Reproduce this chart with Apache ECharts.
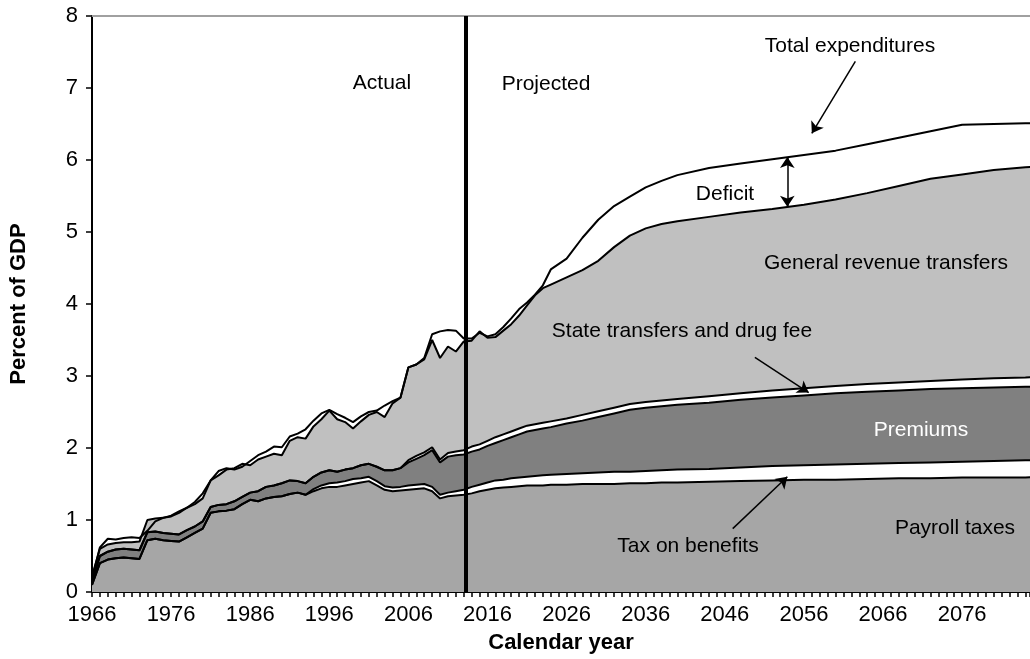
<!DOCTYPE html>
<html>
<head>
<meta charset="utf-8">
<script src="https://cdn.jsdelivr.net/npm/echarts@6/dist/echarts.min.js"></script>
<style>
html, body { margin: 0; padding: 0; background: #fff; }
#main { width: 1030px; height: 659px; }
</style>
</head>
<body>
<div id="main"></div>
<script>
// calendar years (annual history, sparser for the smooth projections)
var years = [
	1966,1967,1968,1969,1970,1971,1972,1973,1974,1975,
	1976,1977,1978,1979,1980,1981,1982,1983,1984,1985,
	1986,1987,1988,1989,1990,1991,1992,1993,1994,1995,
	1996,1997,1998,1999,2000,2001,2002,2003,2004,2005,
	2006,2007,2008,2009,2010,2011,2012,2013,
	2014,2015,2016,2017,2018,2019,2020,2021,2022,2023,2024,
	2026,2028,2030,2032,2034,2036,2038,2040,
	2044,2048,2052,2056,2060,2064,2068,2072,2076,2080,2084,2086
]

// income sources, percent of GDP (stacked bottom to top)
var payrollTaxes = [
	0.10,0.40,0.45,0.47,0.48,0.47,0.46,0.72,0.74,0.72,
	0.71,0.70,0.76,0.82,0.88,1.10,1.12,1.13,1.15,1.22,
	1.28,1.26,1.30,1.32,1.33,1.36,1.38,1.35,1.40,1.44,
	1.46,1.46,1.48,1.50,1.52,1.54,1.48,1.42,1.40,1.41,
	1.42,1.43,1.44,1.40,1.30,1.33,1.34,1.35,
	1.37,1.40,1.42,1.44,1.45,1.46,1.47,1.48,1.48,1.48,1.49,
	1.49,1.50,1.50,1.50,1.51,1.51,1.52,1.52,
	1.53,1.54,1.55,1.56,1.56,1.57,1.58,1.58,1.59,1.59,1.59,1.60
]
var taxOnBenefits = [
	0,0,0,0,0,0,0,0,0,0,
	0,0,0,0,0,0,0,0,0,0,
	0,0,0,0,0,0,0,0,0.03,0.04,
	0.05,0.06,0.06,0.07,0.06,0.06,0.06,0.05,0.05,0.05,
	0.06,0.06,0.06,0.06,0.05,0.05,0.06,0.07,
	0.09,0.09,0.10,0.11,0.11,0.12,0.12,0.12,0.13,0.14,0.14,
	0.15,0.15,0.16,0.17,0.16,0.17,0.17,0.18,
	0.18,0.19,0.20,0.20,0.21,0.21,0.21,0.22,0.22,0.23,0.24,0.23
]
var premiums = [
	0.05,0.10,0.11,0.12,0.12,0.12,0.12,0.11,0.10,0.10,
	0.10,0.10,0.10,0.09,0.10,0.08,0.09,0.09,0.11,0.10,
	0.10,0.14,0.16,0.16,0.18,0.19,0.16,0.16,0.17,0.18,
	0.18,0.15,0.16,0.15,0.18,0.18,0.20,0.22,0.24,0.26,
	0.32,0.36,0.40,0.51,0.45,0.50,0.50,0.49,
	0.49,0.49,0.51,0.52,0.55,0.57,0.60,0.63,0.64,0.65,0.66,
	0.70,0.73,0.77,0.81,0.86,0.88,0.89,0.90,
	0.92,0.94,0.95,0.97,0.99,1.00,1.01,1.02,1.02,1.02,1.02,1.02
]
var stateTransfers = [
	0,0,0,0,0,0,0,0,0,0,
	0,0,0,0,0,0,0,0,0,0,
	0,0,0,0,0,0,0,0,0,0,
	0,0,0,0,0,0,0,0,0,0,
	0.03,0.04,0.04,0.04,0.04,0.05,0.05,0.06,
	0.07,0.07,0.07,0.08,0.08,0.08,0.08,0.08,0.08,0.08,0.08,
	0.07,0.08,0.08,0.08,0.08,0.08,0.08,0.08,
	0.09,0.09,0.10,0.10,0.10,0.11,0.11,0.11,0.12,0.13,0.13,0.14
]
var generalRevenue = [
	0.07,0.10,0.10,0.09,0.09,0.10,0.12,0.17,0.18,0.21,
	0.25,0.32,0.31,0.31,0.32,0.37,0.41,0.48,0.46,0.46,
	0.38,0.44,0.42,0.44,0.39,0.55,0.61,0.62,0.70,0.74,
	0.83,0.73,0.66,0.55,0.61,0.68,0.76,0.74,0.93,0.98,
	1.29,1.27,1.29,1.49,1.41,1.48,1.39,1.51,
	1.47,1.57,1.43,1.39,1.44,1.49,1.57,1.67,1.79,1.87,1.90,
	1.96,2.01,2.09,2.23,2.34,2.41,2.45,2.47,
	2.49,2.51,2.52,2.55,2.59,2.65,2.73,2.81,2.85,2.89,2.92,2.92
]
// total expenditures, percent of GDP
var totalExpenditures = [
	0.18,0.62,0.74,0.73,0.75,0.76,0.75,0.85,0.98,1.03,
	1.05,1.10,1.17,1.25,1.37,1.55,1.68,1.72,1.70,1.74,
	1.82,1.90,1.95,2.02,2.01,2.16,2.20,2.26,2.38,2.48,
	2.53,2.47,2.42,2.36,2.44,2.50,2.52,2.59,2.65,2.70,
	3.12,3.16,3.25,3.58,3.62,3.64,3.63,3.52,
	3.52,3.60,3.55,3.58,3.68,3.80,3.93,4.02,4.13,4.26,4.48,
	4.63,4.92,5.17,5.36,5.49,5.62,5.71,5.79,
	5.89,5.95,6.01,6.07,6.13,6.22,6.31,6.40,6.49,6.50,6.51,6.51
]

var projectionStart = 2013.3
var yTicks = [0, 1, 2, 3, 4, 5, 6, 7, 8]

var font = '"Liberation Sans", Arial, sans-serif'

var bands = [
	{ name: 'Payroll taxes', values: payrollTaxes, color: '#a6a6a6' },
	{ name: 'Tax on benefits', values: taxOnBenefits, color: '#ffffff' },
	{ name: 'Premiums', values: premiums, color: '#808080' },
	{ name: 'State transfers and drug fee', values: stateTransfers, color: '#ffffff' },
	{ name: 'General revenue transfers', values: generalRevenue, color: '#c0c0c0' }
]

// running totals: the top edge of each band
var running = years.map(function () { return 0 })
bands.forEach(function (b) {
	running = running.map(function (s, i) { return Math.round((s + b.values[i]) * 100) / 100 })
	b.top = years.map(function (y, i) { return [y, running[i]] })
})

var series = []
// filled bands, widest first so the lower ones paint over them
bands.slice().reverse().forEach(function (b) {
	series.push({
		name: b.name,
		type: 'line',
		data: b.top,
		showSymbol: false,
		symbol: 'none',
		lineStyle: { width: 0 },
		areaStyle: { color: b.color, opacity: 1 },
		z: 2
	})
})
// black outline along the top of each band
bands.forEach(function (b) {
	series.push({
		name: b.name + ' edge',
		type: 'line',
		data: b.top,
		showSymbol: false,
		symbol: 'none',
		lineStyle: { color: '#000', width: 2 },
		z: 3
	})
})

var arrowLine = { color: '#000', width: 1.5, type: 'solid' }
series.push({
	name: 'Total expenditures',
	type: 'line',
	data: years.map(function (y, i) { return [y, totalExpenditures[i]] }),
	showSymbol: false,
	symbol: 'none',
	lineStyle: { color: '#000', width: 2 },
	z: 4,
	markLine: {
		silent: true,
		animation: false,
		label: { show: false },
		symbolSize: 11,
		data: [
			[
				{ xAxis: projectionStart, yAxis: 0, symbol: 'none', lineStyle: { color: '#000', width: 4, type: 'solid' } },
				{ xAxis: projectionStart, yAxis: 8, symbol: 'none' }
			],
			[
				{ coord: [2062.5, 7.37], symbol: 'none', lineStyle: arrowLine },
				{ coord: [2057.0, 6.37], symbol: 'arrow' }
			],
			[
				{ coord: [2053.9, 6.04], symbol: 'arrow', lineStyle: arrowLine },
				{ coord: [2053.9, 5.35], symbol: 'arrow' }
			],
			[
				{ coord: [2049.8, 3.26], symbol: 'none', lineStyle: arrowLine },
				{ coord: [2056.6, 2.77], symbol: 'arrow' }
			],
			[
				{ coord: [2047.0, 0.88], symbol: 'none', lineStyle: arrowLine },
				{ coord: [2053.9, 1.60], symbol: 'arrow' }
			]
		]
	}
})

function label(text, x, y, color) {
	return {
		type: 'text',
		x: x,
		y: y,
		z: 100,
		style: {
			text: text,
			font: '21px ' + font,
			fill: color || '#000',
			align: 'center',
			verticalAlign: 'middle'
		}
	}
}

var chart = echarts.init(document.getElementById('main'))
chart.setOption({
	animation: false,
	backgroundColor: '#fff',
	grid: { left: 92, right: 0, top: 16, bottom: 63, containLabel: false },
	xAxis: [
		{
			type: 'value',
			min: years[0],
			max: 2084.58,
			interval: 10,
			name: 'Calendar year',
			nameLocation: 'middle',
			nameGap: 40,
			nameTextStyle: { fontFamily: font, fontSize: 22, fontWeight: 'bold', color: '#000' },
			axisLine: { show: true, onZero: false, lineStyle: { color: '#000', width: 2 } },
			axisTick: { show: true, length: 5, lineStyle: { color: '#000', width: 1.5 } },
			minorTick: { show: true, splitNumber: 10, length: 5, lineStyle: { color: '#000', width: 1.5 } },
			axisLabel: {
				fontFamily: font, fontSize: 22, color: '#000', margin: 12,
				showMaxLabel: false,
				formatter: function (v) { return (v - years[0]) % 10 === 0 ? String(v) : '' }
			},
			splitLine: { show: false },
			minorSplitLine: { show: false }
		},
		{
			type: 'value',
			position: 'top',
			min: years[0],
			max: 2084.58,
			axisLine: { show: true, onZero: false, lineStyle: { color: '#a0a0a0', width: 2 } },
			axisTick: { show: false },
			axisLabel: { show: false },
			splitLine: { show: false }
		}
	],
	yAxis: {
		type: 'value',
		min: yTicks[0],
		max: yTicks[yTicks.length - 1],
		interval: 1,
		name: 'Percent of GDP',
		nameLocation: 'middle',
		nameGap: 62,
		nameRotate: 90,
		nameTextStyle: { fontFamily: font, fontSize: 22, fontWeight: 'bold', color: '#000' },
		axisLine: { show: true, lineStyle: { color: '#000', width: 2 } },
		axisTick: { show: true, length: 6, lineStyle: { color: '#000', width: 1.5 } },
		axisLabel: { fontFamily: font, fontSize: 22, color: '#000', margin: 14 },
		splitLine: { show: false }
	},
	series: series,
	graphic: [
		label('Actual', 382, 83),
		label('Projected', 546, 84),
		label('Total expenditures', 850, 46),
		label('Deficit', 725, 194),
		label('General revenue transfers', 886, 263),
		label('State transfers and drug fee', 682, 331),
		label('Premiums', 921, 430, '#ffffff'),
		label('Tax on benefits', 688, 546),
		label('Payroll taxes', 955, 528)
	]
})
</script>
</body>
</html>
